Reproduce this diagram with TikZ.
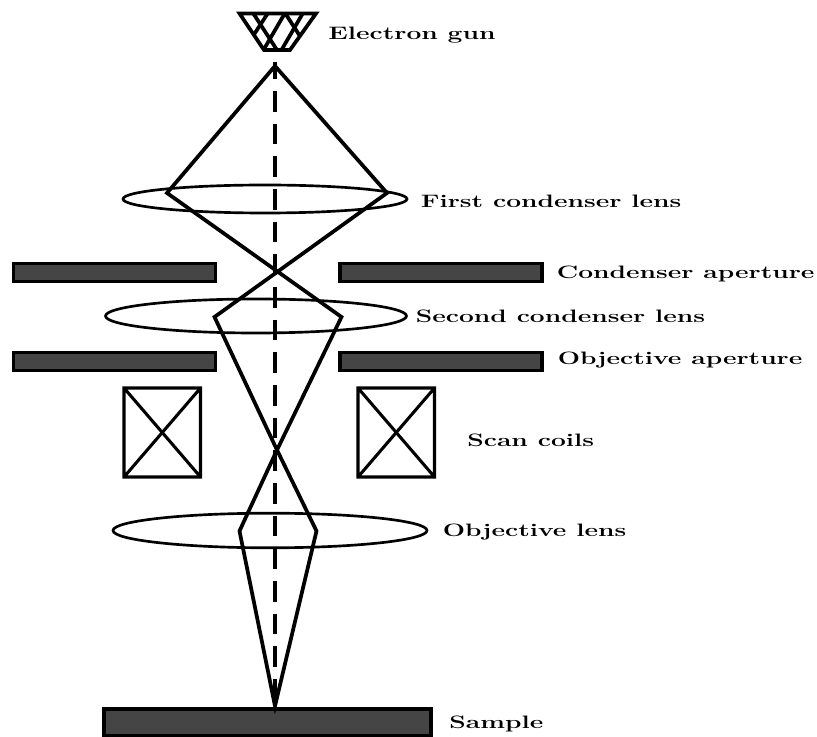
\documentclass[tikz,border=0pt]{standalone}
\begin{document}
\begin{tikzpicture}[x=0.75pt,y=-0.75pt,
  beam/.style={line width=2.8pt,line join=miter,miter limit=10},
  gunline/.style={line width=2.8pt,line join=miter},
  lensline/.style={line width=2pt},
  barbox/.style={draw=black,line width=2.5pt,fill=black!73},
  coil/.style={draw=black,line width=2.3pt},
  lab/.style={anchor=base west,inner sep=0pt,transform shape,xscale=1.465,font=\fontsize{13.5}{15}\selectfont\bfseries}]
\useasboundingbox (0,0) rectangle (817,737);
% gun
\begin{scope}
\clip (239.5,13.5) -- (316,13.5) -- (290,50) -- (264,50) -- cycle;
\draw[gunline] (253,13) -- (277,50) (285,13) -- (309,50);
\draw[gunline] (268,13) -- (240,56) (285,13) -- (260,56) (303,13) -- (278,56);
\end{scope}
\draw[gunline] (239.5,13.5) -- (316,13.5) -- (290,50) -- (264,50) -- cycle;
% axis
\coordinate (axt) at (275,62);
\coordinate (axb) at (275,706);
\draw[line width=2.8pt,dash pattern=on 15.5pt off 9pt,dash phase=2.7pt] (axt) -- (axb);
% lenses
\draw[lensline] (265,199) ellipse [x radius=142,y radius=14];
\draw[lensline] (256,316) ellipse [x radius=150.5,y radius=17];
\draw[lensline] (270,530.5) ellipse [x radius=157,y radius=17.3];
% bars
\path[barbox] (13.5,263.5) rectangle (215.5,281.5);
\path[barbox] (340,263.5) rectangle (542,281.5);
\path[barbox] (13.5,352.5) rectangle (215.5,370.5);
\path[barbox] (340,352.5) rectangle (542,370.5);
\path[barbox] (104,709) rectangle (431,736);
% coils
\draw[coil] (124,388) rectangle (200.5,477) (124,388) -- (200.5,477) (200.5,388) -- (124,477);
\draw[coil] (358,388) rectangle (434.5,477) (358,388) -- (434.5,477) (434.5,388) -- (358,477);
% beam
\draw[beam] (275,66) -- (167,193) -- (341.5,317) -- (277,450) -- (239.5,531) -- (275,706)
            -- (316.5,531) -- (277,450) -- (214.5,317) -- (387,193) -- cycle;
% labels
\node[lab] (l1) at (328,40) {Electron gun};
\node[lab] (l2) at (420.5,208) {First condenser lens};
\node[lab] (l3) at (556.5,279) {Condenser aperture};
\node[lab] (l4) at (415.5,322.5) {Second condenser lens};
\node[lab] (l5) at (557.5,365) {Objective aperture};
\node[lab] (l6) at (467,446) {Scan coils};
\node[lab] (l7) at (442.5,536.5) {Objective lens};
\node[lab] (l8) at (449,728) {Sample};
\end{tikzpicture}
\end{document}
